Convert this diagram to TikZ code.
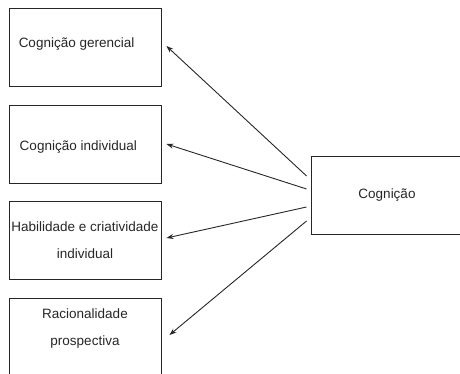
\documentclass[tikz,border=0pt]{standalone}
\usepackage{fontspec}
\setmainfont{Liberation Sans}
\usetikzlibrary{arrows.meta,calc}
\begin{document}
\begin{tikzpicture}[x=1pt,y=-1pt,
  box/.style={draw=black!85, line width=0.9pt, rectangle, minimum width=152pt, minimum height=78pt, inner sep=0pt},
  txt/.style={font=\fontsize{13.5}{27}\selectfont, text=black!85, inner sep=0pt},
  arr/.style={draw=black!85, line width=0.9pt, -{Stealth[length=7pt,width=5pt]}}]
\useasboundingbox (0,0) rectangle (460,374);
\clip (0,0) rectangle (460,374);
\node[box, label={[txt, anchor=west, xshift=10pt, yshift=3pt, name=t1]west:Cognição gerencial}] (b1) at (85,47) {};
\node[box, label={[txt, anchor=west, xshift=11pt, yshift=-3pt, name=t2]west:Cognição individual}] (b2) at (85,144) {};
\node[box, txt, align=center, draw=black!85, line width=0.9pt] (b3) at (85,240) {Habilidade e criatividade\\individual};
\node[box, label={[txt, align=center, yshift=8.5pt, name=t4]center:Racionalidade\\prospectiva}] (b4) at (85,337) {};
\node[box, txt, draw=black!85, line width=0.9pt] (cog) at (387,195) {Cognição};
\draw[arr] ($(cog.west)+(-4,-19)$) -- ($(b1.east)+(5,-1)$);
\draw[arr] ($(cog.west)+(-4,-6)$) -- ($(b2.east)+(5,0)$);
\draw[arr] ($(cog.west)+(-4,12)$) -- ($(b3.east)+(5,-2)$);
\draw[arr] ($(cog.west)+(-4,26)$) -- ($(b4.east)+(8,-2)$);
\end{tikzpicture}
\end{document}
